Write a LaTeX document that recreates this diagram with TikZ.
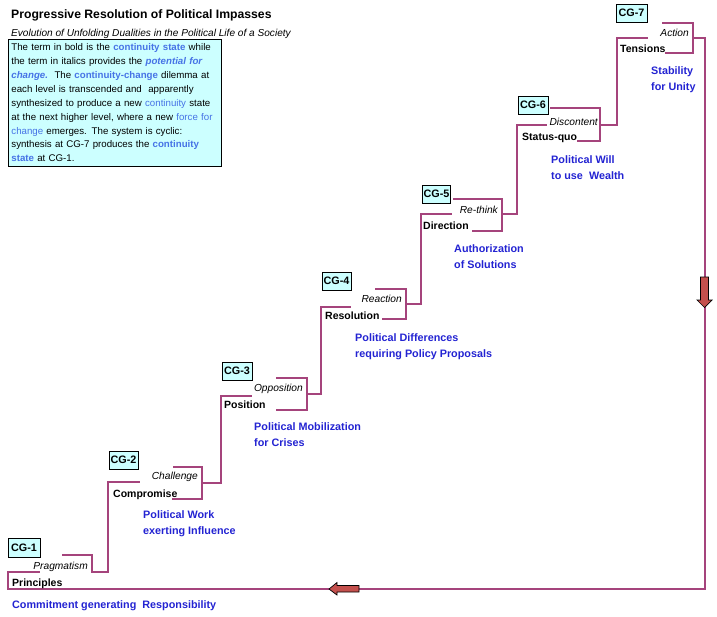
\documentclass[tikz,border=0pt]{standalone}
\usepackage{fontspec}
\setmainfont{Liberation Sans}
\definecolor{stair}{RGB}{165,68,124}
\definecolor{lab}{RGB}{35,35,210}
\definecolor{hilite}{RGB}{70,115,230}
\definecolor{cyanbox}{RGB}{204,255,255}
\definecolor{arrowred}{RGB}{196,80,77}
\newcommand{\hlbold}[1]{{\color{hilite}\bfseries #1}}
\newcommand{\hlboldit}[1]{{\color{hilite}\bfseries\itshape #1}}
\newcommand{\hlreg}[1]{{\color{hilite}#1}}
\begin{document}
\begin{tikzpicture}[x=1pt,y=-1pt,
  stairline/.style={draw=stair,line width=2pt},
  bterm/.style={anchor=base west,inner sep=0pt,font=\fontsize{10.5}{12}\selectfont\bfseries},
  iterm/.style={anchor=base east,inner sep=0pt,font=\fontsize{10.2}{12}\selectfont\itshape},
  blab/.style={anchor=base west,inner sep=0pt,text=lab,font=\fontsize{10.8}{13}\selectfont\bfseries},
  cgbox/.style={draw=black,fill=cyanbox,line width=0.8pt,inner sep=0pt,font=\fontsize{10.8}{12}\selectfont\bfseries},
  blockarrow/.style={fill=arrowred,draw=black,line width=0.7pt,line join=miter}]
\useasboundingbox (0,0) rectangle (717,616);

% titles
\node[anchor=base west,inner sep=0pt,font=\fontsize{12.2}{14}\selectfont\bfseries] (title) at (11,18.5) {Progressive Resolution of Political Impasses};
\node[anchor=base west,inner sep=0pt,font=\fontsize{10.1}{12}\selectfont\itshape] (subtitle) at (11,36) {Evolution of Unfolding Dualities in the Political Life of a Society};

% note box
\node[draw=black,fill=cyanbox,line width=0.8pt,anchor=north west,inner xsep=3pt,inner ysep=2pt,
      text width=207pt,minimum height=127pt,align=left,
      font=\fontsize{9.7}{13.85}\selectfont] (note) at (8,39)
{The term in bold is the \hlbold{continuity state} while\\
the term in italics provides the \hlboldit{potential for}\\
\hlboldit{change.}\ \ The \hlbold{continuity-change} dilemma at\\
each level is transcended and\ \ apparently\\
synthesized to produce a new \hlreg{continuity} state\\
at the next higher level, where a new \hlreg{force for}\\
\hlreg{change} emerges. The system is cyclic:\\
synthesis at CG-7 produces the \hlbold{continuity}\\
\hlbold{state} at CG-1.};

% staircase
\draw[stairline] (693,38) -- (705,38) -- (705,589) -- (8,589) -- (8,572) -- (40,572);
\draw[stairline] (62,555) -- (92,555) -- (92,572) -- (108,572) -- (108,482) -- (140,482);
\draw[stairline] (173,467) -- (202,467) -- (202,499) -- (172,499);
\draw[stairline] (202,483) -- (221,483) -- (221,396) -- (252,396);
\draw[stairline] (276,378) -- (307,378) -- (307,410) -- (276,410);
\draw[stairline] (307,394) -- (321,394) -- (321,307) -- (351,307);
\draw[stairline] (375,289) -- (406,289) -- (406,319) -- (382,319);
\draw[stairline] (406,304) -- (421,304) -- (421,214) -- (452,214);
\draw[stairline] (453,199) -- (502,199) -- (502,231) -- (472,231);
\draw[stairline] (502,214) -- (517,214) -- (517,125) -- (547,125);
\draw[stairline] (550,108) -- (600,108) -- (600,141) -- (577,141);
\draw[stairline] (600,125) -- (617,125) -- (617,38) -- (648,38);
\draw[stairline] (662,23) -- (693,23) -- (693,53) -- (665,53);

% block arrows
\filldraw[blockarrow] (700.5,277) -- (708.5,277) -- (708.5,300) -- (712,300) -- (704.5,307.5) -- (697,300) -- (700.5,300) -- cycle;
\filldraw[blockarrow] (359,585.5) -- (337,585.5) -- (337,582.5) -- (329,589) -- (337,595) -- (337,592) -- (359,592) -- cycle;

% CG boxes
\node[cgbox,minimum width=32pt,minimum height=19pt] (cg1) at (24,547.5) {CG-1};
\node[cgbox,minimum width=29pt,minimum height=18pt] (cg2) at (123.5,460) {CG-2};
\node[cgbox,minimum width=30pt,minimum height=18pt] (cg3) at (237,371) {CG-3};
\node[cgbox,minimum width=29pt,minimum height=18pt] (cg4) at (336.5,281) {CG-4};
\node[cgbox,minimum width=28pt,minimum height=18pt] (cg5) at (436.5,194) {CG-5};
\node[cgbox,minimum width=30pt,minimum height=18pt] (cg6) at (533,105) {CG-6};
\node[cgbox,minimum width=31pt,minimum height=18pt] (cg7) at (631.5,13) {CG-7};

% bold terms
\node[bterm] (principles) at (12,586.5) {Principles};
\node[bterm] (compromise) at (113,497) {Compromise};
\node[bterm] (position) at (224,408) {Position};
\node[bterm] (resolution) at (325,319) {Resolution};
\node[bterm] (direction) at (423,229) {Direction};
\node[bterm] (statusquo) at (522,140) {Status-quo};
\node[bterm] (tensions) at (620,52) {Tensions};

% italic terms
\node[iterm] (pragmatism) at (88,569) {Pragmatism};
\node[iterm] (challenge) at (198,479) {Challenge};
\node[iterm] (opposition) at (303,391.5) {Opposition};
\node[iterm] (reaction) at (402,302) {Reaction};
\node[iterm] (rethink) at (498,213) {Re-think};
\node[iterm] (discontent) at (598,125) {Discontent};
\node[iterm] (action) at (689,36) {Action};

% blue labels
\node[blab] (commit) at (12,608) {Commitment generating\ \ Responsibility};
\node[blab] (pwa) at (143,518) {Political Work};
\node[blab] (pwb) at (143,534) {exerting Influence};
\node[blab] (pma) at (254,430) {Political Mobilization};
\node[blab] (pmb) at (254,446) {for Crises};
\node[blab] (pda) at (355,341) {Political Differences};
\node[blab] (pdb) at (355,357) {requiring Policy Proposals};
\node[blab] (aua) at (454,252) {Authorization};
\node[blab] (aub) at (454,268) {of Solutions};
\node[blab] (wia) at (551,163) {Political Will};
\node[blab] (wib) at (551,179) {to use\ \ Wealth};
\node[blab] (sta) at (651,74) {Stability};
\node[blab] (stb) at (651,90) {for Unity};
\end{tikzpicture}
\end{document}
